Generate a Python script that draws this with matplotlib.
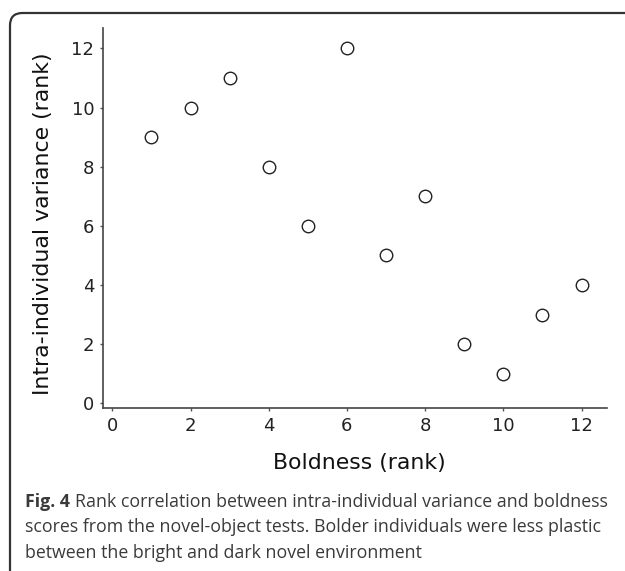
import matplotlib.pyplot as plt
from matplotlib.patches import FancyBboxPatch

boldness = [1, 2, 3, 4, 5, 6, 7, 8, 9, 10, 11, 12]
variance = [9, 10, 11, 8, 6, 12, 5, 7, 2, 1, 3, 4]
ticks = [0, 2, 4, 6, 8, 10, 12]

W, H = 625, 571
fig = plt.figure(figsize=(6.25, 5.71), dpi=100)

# rounded frame, only top and left edges visible
frame = FancyBboxPatch((10 / W, -0.1), 1.2, (H - 13) / H + 0.1,
                       boxstyle="round,pad=0,rounding_size=0.02",
                       transform=fig.transFigure, fill=False,
                       edgecolor='#333333', linewidth=1.6, mutation_aspect=W / H)
fig.patches.append(frame)

ax = fig.add_axes([103.3 / W, (H - 408.3) / H, (607 - 103.3) / W, (408.3 - 28.3) / H])
ax.plot(boldness, variance, 'o', markersize=9, markerfacecolor='white',
        markeredgecolor='#222222', markeredgewidth=1.0, linestyle='none')

ax.set_xlim(-0.23, 12.65)
ax.set_ylim(-0.17, 12.68)
ax.set_xticks(ticks)
ax.set_yticks(ticks)
for s in ['top', 'right']:
    ax.spines[s].set_visible(False)
for s in ['left', 'bottom']:
    ax.spines[s].set_color('#444444')
    ax.spines[s].set_linewidth(1.2)
ax.tick_params(direction='out', length=2.5, width=1, color='#555555',
               labelsize=13, labelcolor='#222222', pad=4)

# axis labels placed in figure pixels, sized to the reference
xl = fig.text(359 / W, 1 - 463 / H, 'Boldness (rank)', fontsize=16,
              color='#111111', ha='center', va='center')
yl = fig.text(43 / W, 1 - 223.5 / H, 'Intra-individual variance (rank)', fontsize=16,
              color='#111111', ha='center', va='center', rotation=90)
fig.canvas.draw()
r = fig.canvas.get_renderer()
sx = 166 / xl.get_window_extent(r).width
sy = 357 / yl.get_window_extent(r).height
fs = 16 * (sx + sy) / 2
xl.set_fontsize(fs)
yl.set_fontsize(fs)

cap_kw = dict(fontsize=12.5, family='Open Sans', color='#3a3a3a', va='center', ha='left')
x0 = 25 / W
t = fig.text(x0, 1 - 502 / H, 'Fig. 4', fontweight='bold', **cap_kw)
fig.canvas.draw()
bb = t.get_window_extent(r)
rest = fig.text((bb.x1 + 5) / W, 1 - 502 / H,
                'Rank correlation between intra-individual variance and boldness', **cap_kw)
fig.canvas.draw()
scale = (608 - 25) / (rest.get_window_extent(r).x1 - 25)
cfs = 12.5 * scale
t.set_fontsize(cfs)
fig.canvas.draw()
bb = t.get_window_extent(r)
rest.set_fontsize(cfs)
rest.set_x((bb.x1 + 5 * scale) / W)
fig.text(x0, 1 - 527.5 / H,
         'scores from the novel-object tests. Bolder individuals were less plastic',
         **dict(cap_kw, fontsize=cfs))
fig.text(x0, 1 - 553 / H, 'between the bright and dark novel environment',
         **dict(cap_kw, fontsize=cfs))

fig.savefig('out.png', dpi=100)
